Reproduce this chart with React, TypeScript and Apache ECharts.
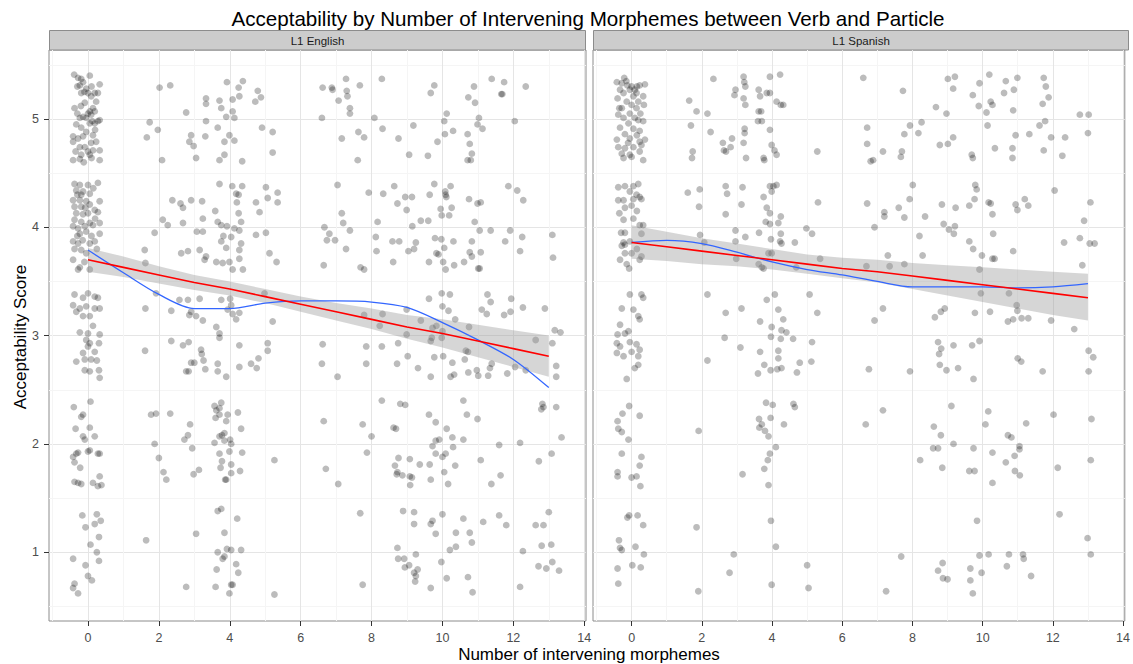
import React, { useEffect, useRef } from "react";
import * as echarts from "echarts";

const FONT = '"Liberation Sans", Arial, Helvetica, sans-serif';

// axis ranges and tick labels
const X_MIN = -1.1;
const X_MAX = 14.05;
const Y_MIN = 0.365;
const Y_MAX = 5.637;
const xMajor = [0, 2, 4, 6, 8, 10, 12, 14];
const xMinor = [-1, 1, 3, 5, 7, 9, 11, 13];
const yMajor = [1, 2, 3, 4, 5];
const yMinor = [0.5, 1.5, 2.5, 3.5, 4.5, 5.5];

const panels = ["L1 English", "L1 Spanish"];

// ---------- L1 English points (jittered) ----------
const enZero = [
  [-0.39,5.41],[-0.28,5.38],[-0.19,5.37],[0.05,5.40],[-0.14,5.34],[-0.23,5.31],[-0.05,5.28],[0.33,5.32],[-0.19,5.24],[0,5.24],[0.19,5.24],[0.28,5.24],[0.09,5.21],[-0.09,5.15],[0.23,5.16],[-0.38,5.10],[0.14,5.10],[0.05,5.07],[0.19,5.07],[-0.23,5.01],[-0.14,5.02],[-0.05,5.01],[0.09,5.04],[0.05,4.96],[0.19,4.96],[0.28,4.98],[0.33,4.99],[-0.33,4.95],[-0.19,4.92],[-0.42,4.84],[-0.28,4.82],[-0.14,4.84],[0.14,4.85],[-0.42,4.79],[-0.23,4.74],[-0.09,4.74],[0.09,4.78],[0.23,4.79],[0,4.70],[0.05,4.67],[-0.19,4.67],[-0.42,4.62],[-0.23,4.63],[0.33,4.71],[0.33,4.62],[0.14,4.71],
  [-0.30,5.30],[-0.10,5.25],[0.10,5.30],[-0.20,5.12],[0.00,5.05],[0.12,4.98],[-0.30,5.05],[-0.05,4.88],[0.20,4.90],[-0.35,4.70],[0.10,4.64],[-0.12,4.60],
  [-0.38,4.40],[-0.23,4.39],[0,4.39],[0.28,4.41],[-0.33,4.34],[-0.14,4.33],[0.05,4.31],[-0.19,4.30],[-0.42,4.25],[-0.23,4.25],[-0.05,4.24],[0.33,4.24],[-0.38,4.19],[-0.19,4.19],[0.05,4.21],[0.19,4.16],[0.28,4.14],[-0.33,4.13],[-0.14,4.12],[0,4.13],[-0.38,4.07],[-0.19,4.05],[0.05,4.04],[0.33,4.04],[-0.42,4.01],[-0.28,3.99],[-0.09,4.01],[0.14,4.02],[-0.23,3.94],[-0.05,3.96],[0.33,3.94],[-0.42,3.87],[-0.28,3.85],[0.19,3.87],[-0.38,3.80],[-0.19,3.79],[0.05,3.85],[-0.05,3.76],[-0.42,3.70],[-0.23,3.63],[0.05,3.61],[-0.28,3.61],
  [-0.30,4.30],[0.15,4.36],[-0.08,4.18],[0.20,4.08],[-0.30,3.92],[0.10,3.92],[-0.15,3.88],[0.25,3.80],[-0.10,3.68],
  [-0.38,3.38],[-0.14,3.35],[0,3.39],[0.19,3.36],[0.28,3.35],[-0.42,3.28],[-0.23,3.25],[-0.05,3.27],[0.19,3.25],[0.33,3.25],[-0.33,3.22],[-0.14,3.18],[0.05,3.18],[-0.23,3.03],[0,3.02],[0.14,3.09],[0.33,3.01],
  [-0.05,2.96],[0.05,2.93],[0.31,2.93],[0,2.90],[0.19,2.85],[-0.14,2.84],[-0.33,2.76],[-0.09,2.78],[0.09,2.78],[0.25,2.77],[-0.09,2.68],[0.05,2.67],[0.31,2.68],[0.33,2.61],[-0.40,2.34],[0.07,2.39],[-0.19,2.25],[-0.14,2.27],[-0.35,2.14],[0.05,2.15],[-0.14,2.07],[-0.09,2.04],[0.19,2.07],[-0.42,1.88],[-0.33,1.91],[-0.28,1.92],[-0.38,1.83],[0,1.93],[0.05,1.94],[0.28,1.91],[0.33,1.91],[-0.22,1.78],[-0.38,1.65],[-0.28,1.64],[-0.19,1.63],[0.14,1.64],[0.28,1.61],[0.38,1.62],[0.33,1.70],[-0.16,1.34],[0.25,1.35],[0.36,1.29],[0.19,1.26],[-0.07,1.23],[0.31,1.14],[0.07,1.07],[0.25,1.00],[-0.42,0.94],[-0.07,0.88],[0.31,0.92],[0,0.78],[0.11,0.74],[-0.38,0.71],[-0.42,0.67],[-0.28,0.62],
];

const enNear = [
  [2.02,5.29],[2.32,5.31],[1.74,4.97],[1.97,4.90],[1.66,4.83],[2.09,4.62],[2.38,4.25],[1.88,3.95],[2.11,4.07],[2.25,4.02],[1.60,3.79],[1.62,3.67],[1.92,3.39],[1.62,3.25],[2.35,3.23],
  [2.77,5.06],[2.86,4.79],[2.98,4.75],[3.33,5.19],[3.33,5.14],[3.33,4.98],[3.31,4.84],[3.05,4.64],[2.91,4.85],[2.61,4.22],[2.68,4.18],[2.91,4.25],[3.22,4.24],[3.24,4.08],[3.07,3.96],[3.24,3.96],[2.68,4.04],[2.63,3.76],[2.82,3.78],[3.15,3.79],[3.33,3.73],[3.29,3.70],[2.58,3.33],[2.82,3.33],[3.15,3.34],[2.86,3.19],[3.05,3.18],[3.24,3.14],[2.91,3.22],
  [3.92,5.34],[4.25,5.29],[4.37,5.35],[3.71,5.17],[4.08,5.18],[3.76,5.10],[4.08,5.07],[3.90,5.02],[4.13,5.01],[3.66,4.92],[3.99,4.85],[3.85,4.79],[4.13,4.80],[3.71,4.62],[3.85,4.67],[4.35,4.61],[4.27,5.21],
  [3.71,4.40],[4.07,4.38],[4.35,4.38],[4.18,4.31],[4.25,4.30],[4.20,4.23],[3.59,4.15],[4.25,4.13],[4.32,4.05],[3.66,4.05],[3.76,4.02],[4.13,3.99],[4.27,3.97],[3.92,4.01],[4.04,3.91],[3.76,3.87],[3.82,3.92],[4.32,3.85],[4.27,3.79],[3.90,3.81],[3.62,3.68],[3.80,3.67],[3.99,3.68],[4.08,3.61],[4.27,3.71],[4.37,3.61],
  [3.76,3.33],[4.01,3.34],[4.04,3.28],[3.94,3.24],[4.08,3.20],[4.18,3.15],[4.27,3.21],[3.62,3.08],[3.71,3.02],
  [4.79,5.26],[4.88,5.20],[4.72,5.16],[4.91,4.92],[5.21,4.88],[5.21,4.69],[5.02,4.37],[5.35,4.32],[5.07,4.27],[5.35,4.23],[4.74,4.23],[4.84,4.14],[4.74,3.93],[5.02,3.95],[5.12,3.76],[5.32,3.68],[4.98,3.39],[5.21,3.13],
  [2.35,2.95],[1.61,2.86],[1.78,2.27],[1.92,2.28],[2.32,2.28],[1.88,2.00],[2.00,1.87],[2.13,1.74],[2.21,1.67],[1.64,1.11],
  [2.68,2.91],[2.84,2.94],[3.19,2.87],[3.21,2.83],[3.26,2.77],[2.91,2.75],[3.00,2.75],[2.77,2.67],[2.84,2.67],[3.31,2.69],[2.88,2.18],[2.72,2.04],[2.82,2.08],[2.94,1.96],[3.13,1.76],[2.98,1.72],[3.05,1.17],[2.77,0.68],
  [3.71,2.98],[4.27,2.91],[3.66,2.74],[3.66,2.67],[3.90,2.62],[4.27,2.71],[3.57,2.35],[3.62,2.31],[3.71,2.33],[3.76,2.38],[3.71,2.27],[3.94,2.27],[3.90,2.21],[3.60,2.24],[4.23,2.29],[4.32,2.14],[3.71,2.07],[3.78,2.08],[3.85,2.10],[3.57,2.01],[3.85,2.03],[4.01,2.04],[4.04,2.00],[3.71,1.91],[3.99,1.93],[4.35,1.92],[3.78,1.84],[3.74,1.78],[4.04,1.81],[3.90,1.67],[3.87,1.67],[4.04,1.73],[4.29,1.75],[3.66,1.38],[3.76,1.40],[4.21,1.31],[3.85,1.18],[3.66,1.00],[3.92,1.03],[4.04,1.02],[4.32,1.02],[3.85,0.96],[3.80,0.94],[4.18,0.89],[3.63,0.84],[4.24,0.81],[4.08,0.70],[4.04,0.70],[3.60,0.68],[3.99,0.62],
  [5.07,2.93],[5.07,2.86],[4.60,2.74],[4.76,2.70],[4.81,2.79],[5.26,1.85],[5.26,0.61],
];

const enFar = [
  [6.62,5.29],[6.88,5.29],[6.90,5.27],[7.28,5.37],[7.30,5.26],[7.32,5.21],[7.07,5.17],[7.39,5.10],[7.39,5.05],[7.67,5.31],[8.29,5.37],[6.60,5.01],[8.08,5.01],[8.31,4.91],[7.16,4.82],[7.63,4.88],[7.79,4.83],[7.61,4.62],[8.76,4.82],[9.18,4.94],[9.06,4.67],[9.59,4.66],[9.77,5.31],[9.67,5.24],[10.12,5.05],[10.05,4.98],[10.30,4.89],[10.07,4.86],[9.86,4.79],[10.89,5.30],[10.73,5.20],[10.92,5.15],[10.71,4.86],[10.77,4.77],[10.83,4.68],[10.71,4.62],[10.80,4.62],[11.03,5.01],[10.99,4.95],[11.13,4.91],[11.39,5.37],[11.74,5.34],[11.66,5.23],[11.69,5.23],[12.35,5.30],[12.04,4.98],
  [7.04,4.39],[7.92,4.32],[8.33,4.31],[8.64,4.38],[8.73,4.22],[8.95,4.28],[9.14,4.28],[8.99,4.16],[9.64,4.30],[9.77,4.40],[10.08,4.33],[10.09,4.30],[10.11,4.28],[10.23,4.38],[10.26,4.18],[9.95,4.17],[9.98,4.11],[10.19,4.11],[9.39,4.06],[9.60,4.06],[9.15,4.01],[8.17,4.05],[7.16,4.13],[7.20,4.04],[7.39,3.97],[6.67,4.00],[6.81,3.94],[6.74,3.88],[6.97,3.88],[7.28,3.80],[8.12,3.91],[8.14,3.78],[8.61,3.68],[8.59,3.87],[8.78,3.87],[9.04,3.78],[9.20,3.80],[9.25,3.86],[9.79,3.90],[9.97,3.89],[9.89,3.75],[9.83,3.76],[10.05,3.81],[10.31,3.87],[9.62,3.68],[10.02,3.68],[10.09,3.61],[10.33,3.65],[10.61,3.68],[10.77,3.77],[10.83,3.73],[10.83,3.87],[11.08,3.77],[11.01,3.62],[11.05,3.62],[10.91,4.05],[11.05,3.97],[11.36,3.97],[11.91,3.97],[11.77,3.87],[12.25,3.91],[12.19,3.78],[10.75,4.26],[10.99,4.22],[11.08,4.23],[11.86,4.38],[12.11,4.34],[12.28,4.25],[13.10,3.93],[13.12,3.72],[6.65,3.65],[7.69,3.63],[7.79,3.61],
  [9.62,3.34],[9.98,3.39],[10.21,3.38],[10.00,3.27],[10.17,3.23],[11.27,3.38],[11.36,3.31],[11.94,3.34],[11.11,3.24],[11.25,3.20],[11.74,3.19],[11.92,3.22],[12.27,3.26],[12.89,3.25],[10.36,3.15],[10.75,3.08],[7.79,3.19],[8.31,3.20],[9.39,3.14],[8.99,3.24],
  [6.62,2.92],[6.60,2.74],[7.04,2.62],[7.85,2.90],[7.85,2.74],[8.29,2.90],[8.75,2.93],[8.72,2.74],[9.02,2.81],[9.31,2.70],[8.23,3.09],[8.99,3.01],[9.67,2.95],[9.70,2.98],[9.77,2.80],[10.02,2.81],[9.98,2.98],[10.00,3.04],[9.67,2.62],[10.28,2.75],[10.63,2.78],[10.23,2.62],[10.33,2.64],[10.73,2.66],[10.97,2.68],[11.01,2.63],[11.29,2.63],[11.34,2.70],[11.39,2.74],[11.83,2.65],[12.05,2.71],[12.35,2.68],[10.66,2.86],[10.72,2.85],[12.63,2.96],[13.10,2.93],[13.17,3.05],[13.33,3.03],[13.21,2.72],[13.21,2.62],[9.72,3.07],[9.83,3.09],
  [8.29,2.40],[8.81,2.37],[8.95,2.36],[9.62,2.27],[9.81,2.20],[10.12,2.14],[10.59,2.40],[10.69,2.27],[10.99,2.23],[6.65,2.21],[7.75,2.18],[8.00,2.07],[8.62,2.15],[8.69,2.14],[9.72,1.98],[9.81,2.03],[9.91,2.04],[10.28,2.06],[10.30,1.97],[10.59,2.04],[9.81,1.91],[10.09,1.91],[10.00,1.88],[10.36,1.80],[11.08,1.85],[8.76,1.87],[9.08,1.86],[9.36,1.81],[9.64,1.81],[8.66,1.80],[8.73,1.74],[8.71,1.72],[8.87,1.71],[9.08,1.70],[9.14,1.69],[9.09,1.62],[9.67,1.67],[10.05,1.74],[10.16,1.63],[11.38,1.63],[11.64,1.71],[11.60,1.99],[12.19,2.01],[12.72,1.84],[13.08,1.91],[13.36,2.06],[12.82,2.37],[12.85,2.34],[12.79,2.32],[13.21,2.34],[6.71,1.77],[7.06,1.63],[7.87,1.92],
  [7.68,1.36],[8.89,1.38],[9.20,1.37],[10.00,1.35],[9.20,1.26],[9.67,1.26],[9.72,1.29],[9.81,1.17],[10.38,1.18],[10.59,1.31],[10.77,1.18],[11.15,1.28],[11.60,1.34],[11.80,1.25],[10.83,1.09],[10.38,1.05],[10.21,1.02],[8.73,1.04],[9.25,0.98],[8.75,0.94],[8.92,0.94],[9.97,0.91],[8.94,0.86],[9.06,0.88],[9.30,0.84],[9.20,0.81],[9.25,0.78],[9.23,0.73],[10.12,0.76],[10.72,0.77],[10.85,0.63],[9.67,0.67],[7.75,0.70],[12.19,0.68],[12.27,1.01],[12.63,1.25],[12.85,1.25],[13.00,1.37],[12.80,1.06],[13.07,1.07],[12.71,0.87],[12.93,0.85],[13.10,0.91],[13.29,0.83],
];

// ---------- L1 Spanish points (jittered) ----------
const esZero = [
  [-0.21,5.38],[-0.42,5.34],[-0.28,5.33],[-0.12,5.31],[0,5.30],[0.09,5.27],[0.23,5.31],[0.38,5.32],[-0.33,5.27],[-0.05,5.27],[-0.23,5.24],[0.14,5.24],[0.05,5.21],[0.33,5.21],[-0.40,5.19],[-0.14,5.16],[0,5.13],[0.19,5.16],[0.35,5.13],[-0.28,5.10],[0.14,5.10],[-0.05,5.05],[-0.38,5.04],[-0.23,5.01],[0.09,5.01],[0.19,4.99],[0.33,4.98],[-0.09,4.96],[0.05,4.91],[-0.33,4.92],[0.23,4.89],[-0.19,4.86],[-0.42,4.81],[-0.05,4.82],[0.23,4.79],[0.38,4.81],[-0.38,4.74],[-0.19,4.73],[0.05,4.74],[0.28,4.76],[-0.28,4.68],[-0.05,4.67],[0.23,4.70],[-0.23,4.64],[0,4.65],[0.33,4.62],
  [-0.15,5.35],[0.15,5.30],[-0.35,5.10],[0.25,5.05],[-0.10,4.78],[0.15,4.85],
  [-0.38,4.37],[-0.19,4.38],[0.05,4.38],[0.19,4.40],[-0.05,4.33],[0.14,4.30],[0.23,4.28],[-0.23,4.25],[-0.38,4.25],[0.05,4.26],[0.28,4.26],[-0.19,4.18],[-0.35,4.13],[0.05,4.08],[-0.23,4.07],[0.23,4.02],[0.33,4.02],[-0.19,3.95],[0.28,3.94],[-0.23,3.86],[-0.28,3.83],[-0.05,3.87],[-0.19,3.84],[-0.33,3.70],[-0.14,3.66],[-0.07,3.62],[0.23,3.70],[0.28,3.73],[0,3.76],[-0.19,3.76],
  [0.00,4.20],[0.15,4.15],[-0.30,3.95],[0.15,3.80],
  [-0.05,3.38],[0.28,3.38],[0.33,3.35],[-0.28,3.25],[0.05,3.24],[0.19,3.18],[0.23,3.15],[-0.33,3.10],[-0.19,3.02],[-0.09,3.04],[-0.40,3.01],
  [-0.42,2.93],[-0.05,2.94],[0.14,2.92],[-0.33,2.90],[0,2.85],[0.23,2.87],[-0.23,2.81],[0.19,2.81],[-0.42,2.84],[0.09,2.70],[0.19,2.73],[-0.14,2.60],[-0.07,2.35],[-0.26,2.28],[0.23,2.26],[-0.40,2.21],[-0.38,2.14],[-0.28,2.11],[-0.09,2.04],[-0.28,1.91],[0.28,1.88],[0.23,1.80],[-0.40,1.74],[-0.40,1.70],[0,1.69],[0.14,1.70],[0.25,1.61],[-0.12,1.32],[-0.07,1.34],[0.17,1.34],[0.33,1.25],[-0.36,1.11],[-0.33,1.04],[-0.28,1.02],[0.11,1.05],[0.35,0.98],[-0.40,0.85],[0.02,0.88],[0.26,0.86],[-0.38,0.71],
];

const esNear = [
  [2.33,5.37],[1.64,5.17],[1.85,5.07],[2.16,5.05],[1.69,4.94],[2.25,4.88],[1.74,4.70],[1.72,4.64],[1.60,4.32],[1.94,4.35],[1.92,4.19],[1.95,3.93],[2.07,3.86],[2.16,3.38],
  [3.19,5.39],[3.21,5.34],[2.96,5.27],[2.93,5.22],[3.24,5.30],[3.19,5.19],[3.24,5.13],[3.22,4.91],[3.22,4.87],[3.19,4.78],[2.60,4.78],[2.63,4.71],[2.69,4.70],[2.82,4.74],[2.86,4.82],[3.26,4.64],[2.68,4.38],[2.72,4.31],[3.16,4.37],[2.68,4.12],[3.13,4.21],[2.96,3.97],[2.96,3.87],[3.24,3.91],[2.98,3.71],[2.68,3.21],[3.13,3.25],
  [3.94,5.39],[4.23,5.41],[3.62,5.27],[3.85,5.24],[3.94,5.24],[3.66,5.21],[4.13,5.16],[4.25,5.13],[4.32,5.13],[3.62,5.07],[3.69,5.07],[3.60,4.98],[3.71,4.98],[3.94,4.90],[3.99,4.76],[4.07,4.71],[4.13,4.67],[3.76,4.64],[3.78,4.62],[3.94,4.38],[4.04,4.38],[3.99,4.33],[4.13,4.39],[3.76,4.28],[3.85,4.18],[3.94,4.13],[4.25,4.10],[4.18,4.04],[3.82,4.05],[3.94,4.03],[4.25,3.94],[3.97,3.89],[4.23,3.87],[4.27,3.85],[3.63,3.95],[3.90,3.76],[3.99,3.76],[3.62,3.66],[3.71,3.63],[3.76,3.62],[4.08,3.38],[3.85,3.33],[4.18,3.24],[3.66,3.13],[3.99,3.08],[4.32,3.15],[4.27,3.05],[4.41,3.03],
  [5.29,4.70],[5.31,4.23],[4.98,3.99],[5.14,3.94],[4.65,3.86],[5.37,3.71],[4.69,3.63],[5.07,3.38],[5.29,3.21],
  [2.16,2.77],[1.91,2.12],[1.85,1.23],[1.90,0.64],[2.65,2.98],[3.10,2.89],[3.16,1.72],[2.91,0.98],[2.79,0.81],
  [3.97,2.99],[4.25,2.97],[4.60,2.97],[3.66,2.85],[4.18,2.86],[4.18,2.79],[3.78,2.73],[3.96,2.68],[4.15,2.69],[4.27,2.70],[3.60,2.65],[4.71,2.66],[4.79,2.75],[3.83,2.38],[4.02,2.36],[4.61,2.37],[4.65,2.34],[3.63,2.23],[3.71,2.18],[3.96,2.24],[4.34,2.18],[3.64,2.15],[3.80,2.12],[3.90,2.07],[4.11,1.97],[3.94,1.91],[3.88,1.85],[3.78,1.77],[3.90,1.62],[3.97,1.29],[4.11,1.05],[3.99,0.70],
  [5.14,2.94],[5.12,2.76],[5.00,0.88],[5.04,0.67],
];

const esFar = [
  [6.60,5.38],[7.73,5.26],[9.01,5.37],[9.21,5.39],[9.16,5.28],[9.72,5.22],[9.91,5.33],[10.19,5.41],[10.23,5.16],[10.28,5.13],[9.89,5.12],[10.11,5.06],[10.61,5.24],[10.66,5.35],[10.89,5.27],[10.99,5.38],[10.87,5.08],[11.74,5.38],[11.80,5.30],[11.88,5.20],[11.71,5.14],[8.67,5.11],[8.97,5.05],[6.71,4.92],[7.93,4.94],[8.26,4.97],[8.17,4.87],[7.77,4.86],[6.71,4.77],[7.16,4.70],[6.88,4.62],[6.81,4.61],[7.70,4.70],[7.67,4.65],[8.78,4.76],[9.01,4.77],[9.16,4.83],[9.69,4.67],[9.72,4.64],[10.14,4.94],[10.35,4.73],[10.85,4.73],[10.85,4.64],[10.94,4.85],[11.33,4.86],[11.62,4.94],[11.78,4.98],[11.95,4.83],[12.35,4.83],[11.74,4.71],[12.27,4.66],[12.77,5.04],[13.02,5.04],[13.00,4.87],
  [8.01,4.39],[7.92,4.26],[6.71,4.22],[7.20,4.14],[7.20,4.10],[7.61,4.18],[7.77,4.09],[8.36,4.10],[6.92,4.00],[8.84,4.21],[9.23,4.18],[8.89,4.03],[9.04,3.98],[9.21,4.01],[9.18,3.94],[9.62,4.20],[9.77,4.26],[9.79,4.39],[9.83,4.35],[10.17,4.23],[10.23,4.22],[10.28,4.12],[10.94,4.21],[10.99,4.16],[11.20,4.26],[11.30,4.20],[12.05,4.34],[13.07,4.23],[12.89,4.06],[8.20,3.92],[8.29,3.74],[7.30,3.74],[7.35,3.64],[7.77,3.66],[6.69,3.64],[9.62,3.87],[9.73,3.80],[9.91,3.61],[9.98,3.74],[10.30,3.94],[10.28,3.71],[10.34,3.71],[10.87,3.78],[12.32,3.86],[12.77,3.90],[13.05,3.85],[13.19,3.85],[12.84,3.65],
  [7.16,3.25],[6.92,3.14],[8.64,3.17],[8.81,3.22],[8.92,3.25],[9.78,3.21],[10.21,3.22],[9.95,3.39],[10.75,3.39],[10.72,3.13],[10.87,3.15],[10.97,3.28],[10.99,3.23],[11.11,3.16],[11.30,3.16],[11.95,3.14],
  [12.61,3.06],[8.73,2.94],[8.82,2.88],[9.17,2.91],[9.70,2.91],[9.91,2.95],[8.76,2.83],[8.78,2.73],[8.97,2.68],[9.30,2.70],[9.74,2.60],[6.76,2.69],[7.93,2.67],[11.00,2.79],[11.10,2.76],[11.71,2.67],[13.02,2.86],[13.15,2.80],[13.02,2.67],
  [7.16,2.31],[6.67,2.18],[9.11,2.35],[8.61,2.16],[8.81,2.08],[10.16,2.30],[10.08,2.18],[11.24,2.19],[12.02,2.27],[13.10,2.23],[10.72,2.08],[10.82,2.06],[8.59,1.96],[8.73,1.96],[9.17,2.00],[9.74,1.96],[10.28,1.92],[11.05,1.98],[11.05,1.95],[10.91,1.89],[10.66,1.83],[8.22,1.85],[8.85,1.78],[9.62,1.75],[9.77,1.75],[10.92,1.75],[11.06,1.71],[10.28,1.64],[12.14,1.78],[13.08,1.85],
  [9.84,1.29],[12.19,1.35],[12.99,1.13],[7.68,0.96],[9.91,0.97],[10.17,0.98],[10.75,0.98],[11.15,0.98],[11.17,0.94],[13.08,0.98],[8.86,0.90],[8.73,0.83],[9.65,0.85],[10.69,0.87],[8.87,0.76],[9.00,0.75],[9.65,0.74],[9.97,0.81],[11.38,0.78],[7.25,0.64],[9.72,0.62],
];

// ---------- fitted curves ----------
const fitX = [0, 1, 2, 3, 4, 5, 6, 7, 8, 9, 10, 11, 12, 13];
const enLm = [3.70, 3.63, 3.56, 3.49, 3.43, 3.36, 3.29, 3.22, 3.15, 3.08, 3.02, 2.95, 2.88, 2.81];
const enLmHi = [3.81, 3.73, 3.64, 3.56, 3.50, 3.43, 3.36, 3.30, 3.25, 3.19, 3.15, 3.10, 3.05, 3.00];
const enLmLo = [3.59, 3.54, 3.48, 3.42, 3.37, 3.30, 3.22, 3.14, 3.06, 2.97, 2.89, 2.80, 2.71, 2.62];
const enLoess = [3.79, 3.58, 3.38, 3.25, 3.25, 3.30, 3.32, 3.32, 3.31, 3.26, 3.12, 2.96, 2.78, 2.52];

const esLm = [3.86, 3.82, 3.78, 3.74, 3.70, 3.66, 3.62, 3.59, 3.55, 3.51, 3.47, 3.43, 3.39, 3.35];
const esLmHi = [4.02, 3.96, 3.90, 3.85, 3.80, 3.75, 3.72, 3.70, 3.67, 3.65, 3.63, 3.61, 3.59, 3.57];
const esLmLo = [3.71, 3.69, 3.66, 3.64, 3.61, 3.57, 3.53, 3.49, 3.43, 3.37, 3.31, 3.25, 3.19, 3.14];
const esLoess = [3.86, 3.88, 3.85, 3.77, 3.68, 3.61, 3.56, 3.50, 3.45, 3.45, 3.45, 3.44, 3.45, 3.48];

const GRID_TOP = 50;
const GRID_H = 571;
const GRIDS = [
  { left: 49, width: 537 },
  { left: 593, width: 536 },
];

const axisText = { color: "#4d4d4d", fontSize: 12.5, fontFamily: FONT };

function xAxesFor(gridIndex: number) {
  return [
    {
      type: "value", gridIndex, min: X_MIN, max: X_MAX, position: "bottom",
      axisLine: { show: false, onZero: false },
      axisTick: { show: true, length: 5, customValues: xMajor, lineStyle: { color: "#333", width: 1 } },
      axisLabel: { show: true, customValues: xMajor, margin: 10, ...axisText },
      splitLine: { show: true, lineStyle: { color: "#E5E5E5", width: 1 } },
    },
    {
      type: "value", gridIndex, min: X_MIN, max: X_MAX, position: "bottom",
      axisLine: { show: false, onZero: false },
      axisTick: { show: false, customValues: xMinor },
      axisLabel: { show: false, customValues: xMinor },
      splitLine: { show: true, lineStyle: { color: "#F5F5F5", width: 1 } },
    },
  ];
}

function yAxesFor(gridIndex: number, labels: boolean) {
  return [
    {
      type: "value", gridIndex, min: Y_MIN, max: Y_MAX, position: "left",
      axisLine: { show: false, onZero: false },
      axisTick: { show: labels, length: 5, customValues: yMajor, lineStyle: { color: "#333", width: 1 } },
      axisLabel: { show: labels, customValues: yMajor, margin: 10, ...axisText },
      splitLine: { show: true, lineStyle: { color: "#E5E5E5", width: 1 } },
    },
    {
      type: "value", gridIndex, min: Y_MIN, max: Y_MAX, position: "left",
      axisLine: { show: false, onZero: false },
      axisTick: { show: false, customValues: yMinor },
      axisLabel: { show: false, customValues: yMinor },
      splitLine: { show: true, lineStyle: { color: "#F5F5F5", width: 1 } },
    },
  ];
}

function bandSeries(axisIndex: number, lo: number[], hi: number[]) {
  return {
    type: "custom",
    xAxisIndex: axisIndex,
    yAxisIndex: axisIndex,
    silent: true,
    z: 3,
    data: [[fitX[0], lo[0]]],
    renderItem: (_params: any, api: any) => {
      const pts: number[][] = [];
      fitX.forEach((x, i) => pts.push(api.coord([x, hi[i]])));
      for (let i = fitX.length - 1; i >= 0; i--) pts.push(api.coord([fitX[i], lo[i]]));
      return {
        type: "polygon",
        shape: { points: pts },
        style: { fill: "rgba(153,153,153,0.4)", stroke: "none" },
      };
    },
  };
}

function lineSeries(axisIndex: number, ys: number[], color: string, width: number, smooth: number | boolean, z: number) {
  return {
    type: "line",
    xAxisIndex: axisIndex,
    yAxisIndex: axisIndex,
    data: fitX.map((x, i) => [x, ys[i]]),
    showSymbol: false,
    symbol: "none",
    smooth,
    silent: true,
    z,
    lineStyle: { color, width },
  };
}

function scatterSeries(axisIndex: number, pts: number[][]) {
  return {
    type: "scatter",
    xAxisIndex: axisIndex,
    yAxisIndex: axisIndex,
    data: pts,
    symbol: "circle",
    symbolSize: 6.8,
    silent: true,
    z: 2,
    itemStyle: { color: "rgba(0,0,0,0.33)", borderWidth: 0 },
  };
}

export default function App() {
  const ref = useRef<HTMLDivElement>(null);

  useEffect(() => {
    if (!ref.current) return;
    const chart = echarts.init(ref.current, undefined, { renderer: "svg" });

    const strips: any[] = [];
    GRIDS.forEach((g, i) => {
      strips.push({
        type: "rect",
        shape: { x: g.left + 0.5, y: 30.5, width: g.width - 1, height: 19.5 },
        style: { fill: "#CCCCCC", stroke: "#8c8c8c", lineWidth: 1 },
      });
      strips.push({
        type: "text",
        x: g.left + g.width / 2,
        y: 40.5,
        style: {
          text: panels[i], fontSize: 11.5, fontFamily: FONT, fill: "#1a1a1a",
          textAlign: "center", textVerticalAlign: "middle", align: "center", verticalAlign: "middle",
        },
      });
    });

    const option: any = {
      animation: false,
      backgroundColor: "#ffffff",
      grid: GRIDS.map((g) => ({
        left: g.left, top: GRID_TOP, width: g.width, height: GRID_H,
        show: true, backgroundColor: "#ffffff", borderColor: "#8c8c8c", borderWidth: 1,
        containLabel: false,
      })),
      xAxis: [...xAxesFor(0), ...xAxesFor(1)],
      yAxis: [...yAxesFor(0, true), ...yAxesFor(1, false)],
      series: [
        scatterSeries(0, [...enZero, ...enNear, ...enFar]),
        bandSeries(0, enLmLo, enLmHi),
        lineSeries(0, enLoess, "#3366FF", 1.3, 0.3, 4),
        lineSeries(0, enLm, "#FF0000", 1.6, false, 5),
        scatterSeries(2, [...esZero, ...esNear, ...esFar]),
        bandSeries(2, esLmLo, esLmHi),
        lineSeries(2, esLoess, "#3366FF", 1.3, 0.3, 4),
        lineSeries(2, esLm, "#FF0000", 1.6, false, 5),
      ],
      graphic: [
        {
          type: "text", x: 588, y: 18,
          style: {
            text: "Acceptability by Number of Intervening Morphemes between Verb and Particle",
            fontSize: 20.6, fontFamily: FONT, fill: "#000",
            textAlign: "center", textVerticalAlign: "middle", align: "center", verticalAlign: "middle",
          },
        },
        {
          type: "text", x: 589, y: 654,
          style: {
            text: "Number of intervening morphemes",
            fontSize: 17, fontFamily: FONT, fill: "#000",
            textAlign: "center", textVerticalAlign: "middle", align: "center", verticalAlign: "middle",
          },
        },
        {
          type: "text", x: 20, y: 337, rotation: Math.PI / 2,
          style: {
            text: "Acceptability Score",
            fontSize: 17, fontFamily: FONT, fill: "#000",
            textAlign: "center", textVerticalAlign: "middle", align: "center", verticalAlign: "middle",
          },
        },
        ...strips,
      ],
    };

    chart.setOption(option);
    return () => chart.dispose();
  }, []);

  return (
    <div
      ref={ref}
      style={{ position: "fixed", left: 0, top: 0, width: 1133, height: 664, background: "#fff" }}
    />
  );
}
